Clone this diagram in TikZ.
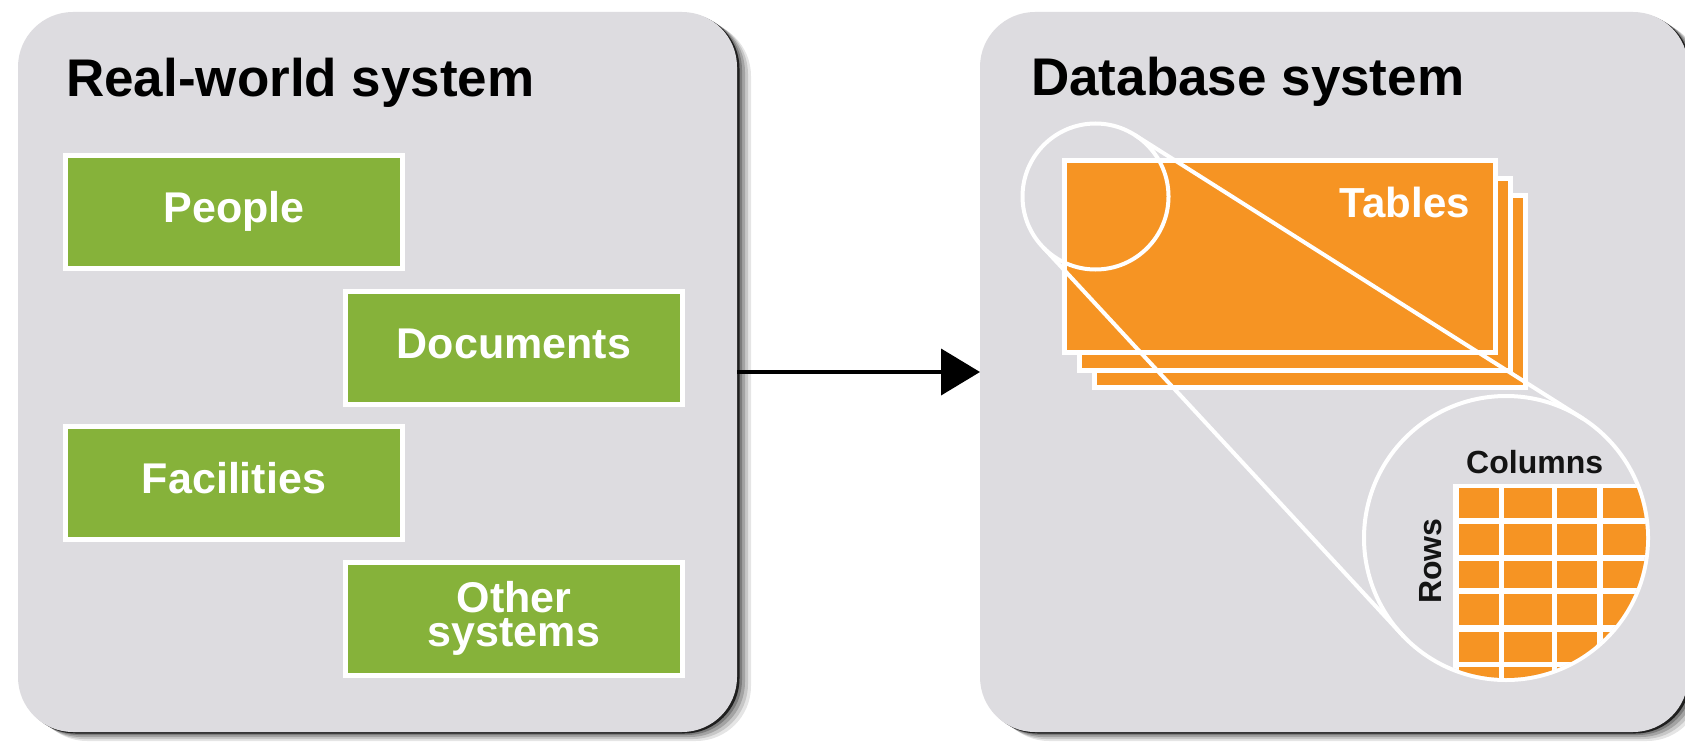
\documentclass[tikz,border=0pt]{standalone}
\usepackage{fontspec}
\setmainfont{Liberation Sans}
\usetikzlibrary{arrows.meta}
\definecolor{panelgray}{RGB}{221,220,224}
\definecolor{leaf}{RGB}{134,178,58}
\definecolor{amber}{RGB}{246,148,35}
\definecolor{ink}{RGB}{20,20,20}
\begin{document}
\begin{tikzpicture}[x=1pt,y=-1pt,
  panel/.style={draw=none, fill=panelgray, rounded corners=55pt, minimum height=720pt, inner sep=0pt, outer sep=0pt},
  titletext/.style={text=black, font=\bfseries\fontsize{53}{60}\selectfont, inner sep=0pt},
  gbox/.style={draw=white, line width=5pt, fill=leaf, minimum width=337pt, minimum height=113pt, inner sep=0pt, outer sep=0pt, text=white, font=\bfseries\fontsize{43}{34}\selectfont, align=center},
  oneline/.style={text height=31pt, text depth=10pt},
  tbl/.style={draw=white, line width=5pt, fill=amber, minimum width=431pt, minimum height=192pt, inner sep=0pt, outer sep=0pt},
  ring/.style={circle, draw=white, line width=4pt, inner sep=0pt, outer sep=0pt},
  smalllbl/.style={text=ink, font=\bfseries\fontsize{32}{32}\selectfont, inner sep=0pt},
  cone/.style={draw=white, line width=4pt}
]
\useasboundingbox (0,0) rectangle (1685,741);
\fill[white] (0,0) rectangle (1685,741);
% shadows
\foreach \dx/\dy/\op in {14/9/0.10, 11/7/0.13, 8/5/0.18, 5/3/0.24, 2.5/1.5/0.75} {
  \fill[black, opacity=\op, rounded corners=55pt] (18+\dx,12+\dy) rectangle (737+\dx,732+\dy);
  \fill[black, opacity=\op, rounded corners=55pt] (980+\dx,12+\dy) rectangle (1688+\dx,732+\dy);
}
% panels
\node[panel, minimum width=719pt] (realworld) at (377.5,372) {};
\node[panel, minimum width=708pt] (dbsys) at (1334,372) {};
% titles
\node[titletext, anchor=base west] (rwtitle) at (66,97) {Real-world system};
\node[titletext, anchor=base west] (dbtitle) at (1031,96) {Database system};
% green boxes
\node[gbox, oneline] (people) at (234,212) {People};
\node[gbox, oneline] (documents) at (514,347.5) {Documents};
\node[gbox, oneline] (facilities) at (234,483) {Facilities};
\node[gbox] (others) at (514,618.5) {Other\\systems};
% arrow
\draw[line width=4pt, -{Triangle[length=39pt,width=46pt]}] (realworld.east) -- (dbsys.west);
% tables
\node[tbl] (table3) at (1310,291.5) {};
\node[tbl] (table2) at (1295,274) {};
\node[tbl] (table1) at (1280,256.5) {};
\node[anchor=base east, text=white, font=\bfseries\fontsize{42}{42}\selectfont, inner sep=0pt] (tableslbl) at (1470,217.5) {Tables};
% magnifier
\node[ring, minimum size=146pt] (zoomring) at (1095.5,196.5) {};
\node[ring, fill=panelgray, minimum size=284pt] (lens) at (1506,538) {};
\begin{scope}
  \clip (lens.center) circle[radius=140pt];
  \fill[white] (1453,484) rectangle (1700,760);
  \foreach \xa/\xb in {1459/1499,1504/1552,1557/1597,1603/1665} {
    \foreach \ya/\yb in {488/518,524/555,561/588,594/625,632/662,667/705} {
      \fill[amber] (\xa,\ya) rectangle (\xb,\yb);
    }
  }
\end{scope}
\draw[cone] (zoomring.57.66) -- (lens.57.66);
\draw[cone] (zoomring.225) -- (lens.224);
\node[smalllbl, anchor=base west] (colslbl) at (1466,473) {Columns};
\node[smalllbl, anchor=base west, rotate=90] (rowslbl) at (1441,604) {Rows};
\end{tikzpicture}
\end{document}
